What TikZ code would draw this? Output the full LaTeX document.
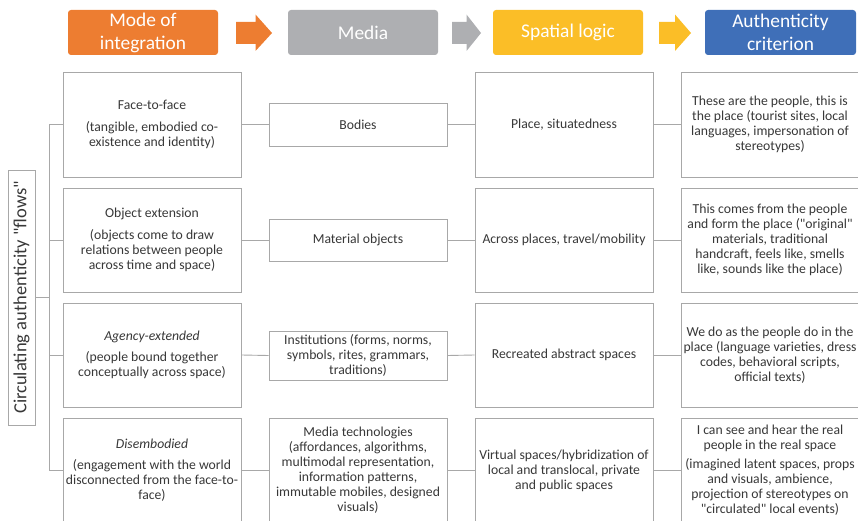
\documentclass[tikz,border=0pt]{standalone}
\usepackage{fontspec}
\setmainfont{Carlito}[Ligatures=TeXOff]
\begin{document}
\definecolor{hdorange}{HTML}{ED7D31}
\definecolor{hdgrey}{HTML}{AEAFB2}
\definecolor{hdyellow}{HTML}{FBBE27}
\definecolor{hdblue}{HTML}{3F6FB8}
\definecolor{boxline}{HTML}{A8A8A8}
\definecolor{bodytext}{HTML}{383838}
\begin{tikzpicture}[x=1pt,y=-1pt,
  header/.style={rounded corners=3pt, fill=#1, draw=none, text=white,
    minimum width=150pt, minimum height=45pt, align=center,
    font=\fontsize{19.4}{23}\selectfont, inner sep=0pt},
  cell/.style={draw=boxline, line width=0.9pt, fill=white, text=bodytext,
    minimum width=178pt, minimum height=#1, align=center,
    font=\fontsize{13.7}{15}\selectfont, inner sep=1pt},
  cell/.default=105pt,
  link/.style={draw=boxline, line width=0.9pt},
  label/.style={draw=boxline, line width=0.9pt, rotate=90, text=bodytext,
    minimum width=255pt, minimum height=27pt, inner sep=0pt,
    font=\fontsize{18.5}{20}\selectfont}
]
\useasboundingbox (0,0) rectangle (858,521);
\clip (0,0) rectangle (858,521);

% column headers
\node[header=hdorange] (hmode) at (143,32.5) {Mode of\\integration};
\node[header=hdgrey] (hmedia) at (363,32.5) {Media};
\node[header=hdyellow] (hspace) at (568,32.5) {Spatial logic};
\node[header=hdblue, minimum width=151pt] (hauth) at (780.5,32.5) {Authenticity\\criterion};

% block arrows between headers
\fill[hdorange] (236,22) -- (255.5,22) -- (255.5,14.5) -- (272,33) -- (255.5,51) -- (255.5,44) -- (236,44) -- cycle;
\fill[hdgrey] (452,22) -- (466.5,22) -- (466.5,14.5) -- (481,33) -- (466.5,51) -- (466.5,44) -- (452,44) -- cycle;
\fill[hdyellow] (659,22) -- (675,22) -- (675,14.5) -- (691,33) -- (675,51) -- (675,44) -- (659,44) -- cycle;

% rotated side label
\node[label] (flows) at (21.5,297.5) {Circulating authenticity "flows"};

% mode of integration
\node[cell] (m1) at (152,124.5) {Face-to-face\\[7pt](tangible, embodied co-\\existence and identity)};
\node[cell=104pt] (m2) at (152,240) {Object extension\\[7pt](objects come to draw\\relations between people\\across time and space)};
\node[cell=104pt] (m3) at (152,355) {\itshape Agency-extended\\[6pt](people bound together\\conceptually across space)};
\node[cell] (m4) at (152,470.5) {\itshape Disembodied\\[6pt](engagement with the world\\disconnected from the face-to-\\face)};

% media
\node[cell=43pt] (d1) at (358,124.5) {Bodies};
\node[cell=42pt] (d2) at (358,240) {Material objects};
\node[cell=49pt] (d3) at (358,355.5) {Institutions (forms, norms,\\symbols, rites, grammars,\\traditions)};
\node[cell] (d4) at (358,470.5) {Media technologies\\(affordances, algorithms,\\multimodal representation,\\information patterns,\\immutable mobiles, designed\\visuals)};

% spatial logic
\node[cell] (s1) at (564,124.5) {Place, situatedness};
\node[cell=104pt] (s2) at (564,240) {Across places, travel/mobility};
\node[cell=104pt] (s3) at (564,355) {Recreated abstract spaces};
\node[cell] (s4) at (564,470.5) {Virtual spaces/hybridization of\\local and translocal, private\\and public spaces};

% authenticity criterion
\node[cell] (a1) at (770,124.5) {These are the people, this is\\the place (tourist sites, local\\languages, impersonation of\\stereotypes)};
\node[cell=104pt] (a2) at (770,240) {This comes from the people\\and form the place ("original"\\materials, traditional\\handcraft, feels like, smells\\like, sounds like the place)};
\node[cell=104pt] (a3) at (770,355) {We do as the people do in the\\place (language varieties, dress\\codes, behavioral scripts,\\official texts)};
\node[cell] (a4) at (770,470.5) {I can see and hear the real\\people in the real space\\[4pt](imagined latent spaces, props\\and visuals, ambience,\\projection of stereotypes on\\"circulated" local events)};

% tree from the side label to each mode
\coordinate (trunk) at (49,297.5);
\draw[link] (flows.south) -- (trunk);
\draw[link] (m1.west -| trunk) -- (m4.west -| trunk);
\foreach \m in {m1,m2,m3,m4}
  \draw[link] (\m.west -| trunk) -- (\m.west);

% row connectors
\foreach \r in {1,2,3,4} {
  \draw[link] (m\r.east) -- (d\r.west);
  \draw[link] (d\r.east) -- (s\r.west);
  \draw[link] (s\r.east) -- (a\r.west);
}
\end{tikzpicture}
\end{document}
